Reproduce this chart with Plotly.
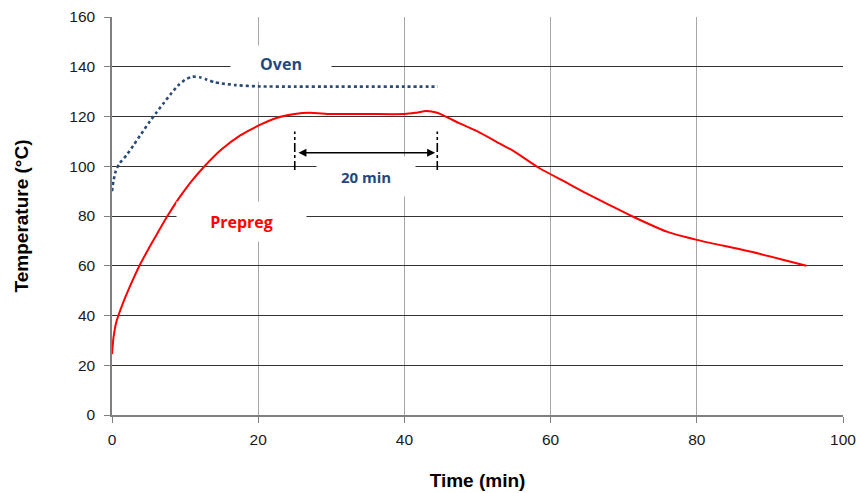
import plotly.graph_objects as go

# ---- data ----
oven_time = [0, 0.2, 0.5, 1, 2, 3, 4, 5, 6, 7, 8, 9, 10, 11, 12, 13, 14, 15, 17, 20, 25, 30, 35, 40, 44.6]
oven_temp = [90, 94, 98, 101, 104.5, 108.7, 113, 117.3, 121.3, 125.1, 128.9, 132.3, 134.8, 136, 135.8,
             134.8, 133.8, 133.3, 132.6, 132.1, 132, 132, 132, 132, 132]

prepreg_time = [0, 0.2, 0.6, 1.5, 2.5, 3.8, 5, 6, 7.5, 9, 10, 11, 12.5, 15, 17.5, 20, 22.5, 25, 27, 30,
                35, 40, 41.5, 43, 44.5, 46, 47.5, 50, 53, 55, 58.5, 62, 64.9, 68, 71.3, 75.9, 80, 87.3, 95]
prepreg_temp = [24.5, 31, 37.5, 45, 52, 60.3, 66.8, 72, 79.6, 86.5, 90.6, 94.4, 99.5, 106.8, 112.3, 116.3,
                119.4, 121, 121.5, 121, 121, 121, 121.5, 122.2, 121.5, 119.5, 117.3, 114, 109.2, 106,
                99.2, 93.7, 89.1, 84.5, 79.7, 73.7, 70.4, 65.7, 60]

x_ticks = [0, 20, 40, 60, 80, 100]
y_ticks = [0, 20, 40, 60, 80, 100, 120, 140, 160]

# hold-time dimension annotation
hold_start = 25
hold_end = 44.5
hold_arrow_temp = 105.4
hold_line_low = 98.5
hold_line_high = 114

label_oven = ("Oven", 23.05, 141.3)
label_prepreg = ("Prepreg", 17.7, 77.7)
label_hold = ("20 min", 34.75, 95.9)

BLUE = "#1F497D"
RED = "#FF0000"

fig = go.Figure()

fig.add_trace(go.Scatter(
    x=oven_time, y=oven_temp, mode="lines",
    line=dict(color="#2B4A75", width=2.6, dash="dot", shape="spline", smoothing=0.6),
    showlegend=False, hoverinfo="skip"))

fig.add_trace(go.Scatter(
    x=prepreg_time, y=prepreg_temp, mode="lines",
    line=dict(color=RED, width=2, shape="spline", smoothing=0.6),
    showlegend=False, hoverinfo="skip"))

# dimension lines (dash-dot verticals)
for xv in (hold_start, hold_end):
    fig.add_shape(type="line", xref="x", yref="y", x0=xv, x1=xv,
                  y0=hold_line_low, y1=hold_line_high,
                  line=dict(color="black", width=1.6, dash="dashdot"))

# double-headed arrow
fig.add_annotation(x=hold_end - 0.3, y=hold_arrow_temp, ax=hold_start + 0.3, ay=hold_arrow_temp,
                   xref="x", yref="y", axref="x", ayref="y", text="",
                   showarrow=True, arrowhead=2, arrowside="end+start",
                   arrowsize=1, arrowwidth=1.6, arrowcolor="black")

label_font = "Open Sans, Noto Sans, sans-serif"
fig.add_annotation(x=label_oven[1], y=label_oven[2], xref="x", yref="y", text="<b>%s</b>" % label_oven[0],
                   showarrow=False, bgcolor="white", width=98, height=33,
                   font=dict(family=label_font, size=16, color=BLUE))
fig.add_annotation(x=label_prepreg[1], y=label_prepreg[2], xref="x", yref="y",
                   text="<b>%s</b>" % label_prepreg[0],
                   showarrow=False, bgcolor="white", width=127, height=37,
                   font=dict(family=label_font, size=16, color=RED))
fig.add_annotation(x=label_hold[1], y=label_hold[2], xref="x", yref="y", text="<b>%s</b>" % label_hold[0],
                   showarrow=False, bgcolor="white", width=96, height=37,
                   font=dict(family=label_font, size=15, color=BLUE))

tick_font = dict(family="Liberation Sans, Arial, sans-serif", size=15.5, color="#1a1a1a")
title_font = dict(family="Liberation Sans, Arial, sans-serif", size=19, color="black")

fig.update_xaxes(
    range=[0, 100], tickvals=x_ticks, ticktext=[str(v) for v in x_ticks],
    showgrid=True, gridcolor="#A6A6A6", gridwidth=1,
    showline=True, linecolor="#808080", linewidth=1.5,
    ticks="outside", ticklen=6, tickcolor="#808080", tickwidth=1,
    tickfont=tick_font, zeroline=False, ticklabelstandoff=4,
    title=dict(text="<b>Time (min)</b>", font=title_font, standoff=26),
)
fig.update_yaxes(
    range=[0, 160], tickvals=y_ticks, ticktext=[str(v) for v in y_ticks],
    showgrid=True, gridcolor="#333333", gridwidth=1,
    showline=True, linecolor="#808080", linewidth=1.5,
    ticks="outside", ticklen=6, tickcolor="#808080", tickwidth=1,
    tickfont=tick_font, zeroline=False, ticklabelstandoff=6,
    title=dict(text="<b>Temperature (°C)</b>", font=title_font, standoff=36),
)

fig.update_layout(
    width=860, height=493,
    margin=dict(l=112, r=17, t=17, b=78, autoexpand=False),
    plot_bgcolor="white", paper_bgcolor="white",
    showlegend=False,
)

# remove the browser's default 8px page margin so the figure fills the window exactly
fig.write_html("out.html",
               config={"displayModeBar": False},
               post_script="document.body.style.margin='0';document.body.style.overflow='hidden';")
